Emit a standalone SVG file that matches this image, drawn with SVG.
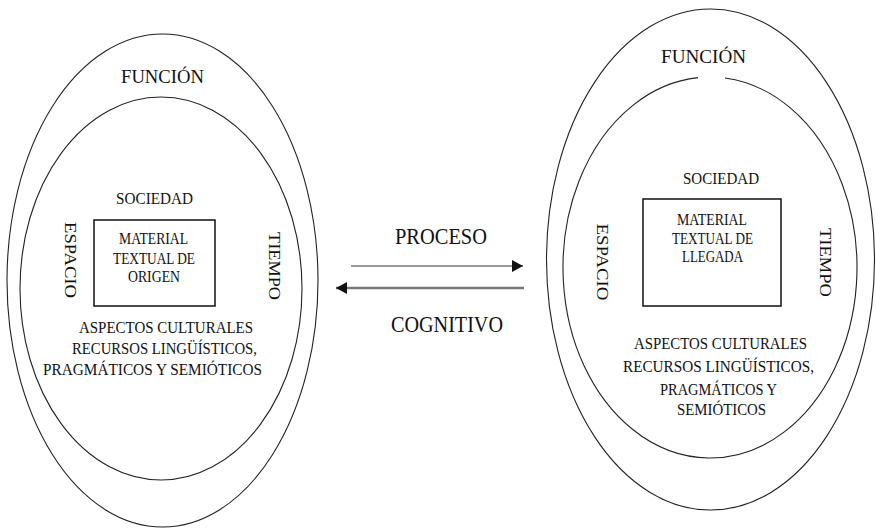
<svg xmlns="http://www.w3.org/2000/svg" width="876" height="529" viewBox="0 0 876 529" font-family="Times New Roman, Liberation Serif, DejaVu Serif, serif">
<style>
text{fill:#111;}
.t{font-size:17.5px;text-anchor:middle;}
.s{font-size:16.5px;text-anchor:middle;}
.f{font-size:19px;text-anchor:middle;}
.p{font-size:23px;text-anchor:middle;}
.ell{fill:none;stroke:#222;stroke-width:1.1;}
.box{fill:none;stroke:#111;stroke-width:1.5;}
.arr{fill:none;stroke:#777;}
</style>
<defs>
<marker id="ah" markerWidth="11" markerHeight="12" refX="11" refY="6" orient="auto" markerUnits="userSpaceOnUse">
<path d="M0,0 L11,6 L0,12 Z" fill="#111"/>
</marker>
</defs>
<rect width="876" height="529" fill="#fff"/>

<g id="left">
<ellipse class="ell" cx="162.5" cy="280.5" rx="155.5" ry="246.5"/>
<ellipse class="ell" cx="161" cy="288.5" rx="141" ry="191.5"/>
<rect class="box" x="94" y="220" width="121" height="86"/>
<text class="f" x="162.5" y="83" textLength="83" lengthAdjust="spacingAndGlyphs">FUNCIÓN</text>
<text class="s" x="154.5" y="204" textLength="77" lengthAdjust="spacingAndGlyphs">SOCIEDAD</text>
<text class="s" x="153.5" y="244" textLength="69" lengthAdjust="spacingAndGlyphs">MATERIAL</text>
<text class="s" x="154" y="264" textLength="82" lengthAdjust="spacingAndGlyphs">TEXTUAL DE</text>
<text class="s" x="154" y="282" textLength="52" lengthAdjust="spacingAndGlyphs">ORIGEN</text>
<text class="s" transform="translate(65,260) rotate(90)" x="0" y="0" textLength="76" lengthAdjust="spacingAndGlyphs">ESPACIO</text>
<text class="s" transform="translate(269,266) rotate(90)" x="0" y="0" textLength="68" lengthAdjust="spacingAndGlyphs">TIEMPO</text>
<text class="t" x="166" y="333" textLength="174" lengthAdjust="spacingAndGlyphs">ASPECTOS CULTURALES</text>
<text class="t" x="164.5" y="354" textLength="185" lengthAdjust="spacingAndGlyphs">RECURSOS LINGÜÍSTICOS,</text>
<text class="t" x="152.5" y="375" textLength="219" lengthAdjust="spacingAndGlyphs">PRAGMÁTICOS Y SEMIÓTICOS</text>
</g>

<g id="right">
<ellipse class="ell" cx="710.5" cy="259.5" rx="164" ry="250.5"/>
<path class="ell" d="M725,78 A147,190.5 0 1,1 698,77.64"/>
<rect class="box" x="643" y="199" width="138" height="107"/>
<text class="f" x="703.5" y="63" textLength="85" lengthAdjust="spacingAndGlyphs">FUNCIÓN</text>
<text class="s" x="721" y="184" textLength="76" lengthAdjust="spacingAndGlyphs">SOCIEDAD</text>
<text class="s" x="712" y="225" textLength="70" lengthAdjust="spacingAndGlyphs">MATERIAL</text>
<text class="s" x="712.5" y="244" textLength="81" lengthAdjust="spacingAndGlyphs">TEXTUAL DE</text>
<text class="s" x="712.5" y="262" textLength="61" lengthAdjust="spacingAndGlyphs">LLEGADA</text>
<text class="s" transform="translate(597,262) rotate(90)" x="0" y="0" textLength="77" lengthAdjust="spacingAndGlyphs">ESPACIO</text>
<text class="s" transform="translate(820,262.5) rotate(90)" x="0" y="0" textLength="69" lengthAdjust="spacingAndGlyphs">TIEMPO</text>
<text class="t" x="720.5" y="349" textLength="173" lengthAdjust="spacingAndGlyphs">ASPECTOS CULTURALES</text>
<text class="t" x="718.5" y="372" textLength="191" lengthAdjust="spacingAndGlyphs">RECURSOS LINGÜÍSTICOS,</text>
<text class="t" x="718.5" y="395" textLength="117" lengthAdjust="spacingAndGlyphs">PRAGMÁTICOS Y</text>
<text class="t" x="721.5" y="415" textLength="89" lengthAdjust="spacingAndGlyphs">SEMIÓTICOS</text>
</g>

<g id="connectors">
<line class="arr" x1="351" y1="266" x2="523" y2="266" stroke-width="1.6" marker-end="url(#ah)"/>
<line class="arr" x1="524" y1="288" x2="336" y2="288" stroke-width="2.6" marker-end="url(#ah)"/>
</g>

<g id="labels">
<text class="p" x="441" y="244" textLength="92" lengthAdjust="spacingAndGlyphs">PROCESO</text>
<text class="p" x="447" y="332" textLength="112" lengthAdjust="spacingAndGlyphs">COGNITIVO</text>
</g>
</svg>
